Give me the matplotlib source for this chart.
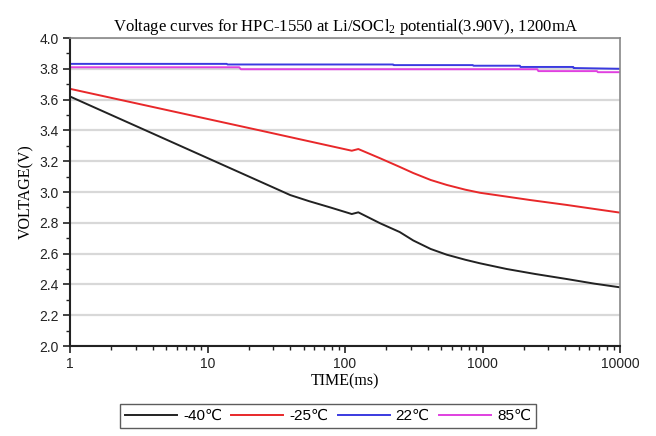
import matplotlib
matplotlib.use("Agg")
import matplotlib.pyplot as plt
from matplotlib.ticker import MultipleLocator, LogLocator, FixedLocator, NullFormatter
import numpy as np

plt.rcParams['mathtext.fontset'] = 'custom'
plt.rcParams['mathtext.rm'] = 'Liberation Serif'
plt.rcParams['mathtext.default'] = 'regular'

title = "Voltage curves for HPC-1550 at Li/SOCl$_2$ potential(3.90V), 1200mA"
xlabel = "TIME(ms)"
ylabel = "VOLTAGE(V)"
labels = ["-40\u2103", "-25\u2103", "22\u2103", "85\u2103"]
colors = ["#222222", "#e8282a", "#3a3ae0", "#e040e0"]

t_m40 = [1, 30, 40, 55, 78, 112, 125, 180, 250, 314, 420, 549, 750, 959, 1500, 2400, 4095, 6500, 10000]
v_m40 = [3.62, 3.03, 2.98, 2.94, 2.90, 2.857, 2.868, 2.797, 2.74, 2.685, 2.630, 2.593, 2.56, 2.537, 2.50, 2.468, 2.435, 2.405, 2.381]

t_m25 = [1, 24, 112, 125, 180, 250, 314, 420, 549, 750, 959, 1500, 2215, 4095, 6500, 10000]
v_m25 = [3.67, 3.40, 3.268, 3.279, 3.219, 3.163, 3.123, 3.078, 3.046, 3.015, 2.995, 2.97, 2.948, 2.916, 2.89, 2.866]

t_22 = [1, 13.8, 14, 224, 226, 850, 860, 1870, 1890, 4570, 4600, 10000]
v_22 = [3.832, 3.832, 3.828, 3.828, 3.824, 3.824, 3.82, 3.82, 3.812, 3.812, 3.805, 3.80]

t_85 = [1, 17, 17.5, 2500, 2550, 6800, 6900, 10000]
v_85 = [3.81, 3.81, 3.797, 3.797, 3.785, 3.785, 3.778, 3.778]

series = [(t_m40, v_m40), (t_m25, v_m25), (t_22, v_22), (t_85, v_85)]

fig = plt.figure(figsize=(6.56, 4.36), dpi=100)
ax = fig.add_axes([70/656, 1-346/436, 550/656, 308/436])

for (t, v), c, lab in zip(series, colors, labels):
    ax.plot(t, v, color=c, lw=1.4, label=lab)

ax.set_xscale('log')
ax.set_xlim(1, 10000)
ax.set_ylim(2.0, 4.0)
ax.yaxis.set_major_locator(MultipleLocator(0.2))
ax.yaxis.set_minor_locator(MultipleLocator(0.1))
ax.xaxis.set_major_locator(FixedLocator([1, 10, 100, 1000, 10000]))
ax.xaxis.set_minor_locator(LogLocator(base=10, subs=np.arange(2, 10)))
ax.xaxis.set_minor_formatter(NullFormatter())
ax.set_xticklabels(["1", "10", "100", "1000", "10000"])
ax.set_yticks(np.round(np.arange(2.0, 4.01, 0.2), 1))
ax.set_yticklabels([f"{v:.1f}" for v in np.arange(2.0, 4.01, 0.2)])

for tl in ax.get_xticklabels() + ax.get_yticklabels():
    tl.set_family(['Liberation Sans', 'DejaVu Sans'])
    tl.set_fontsize(10)
    tl.set_color('#222222')

ax.tick_params(axis='both', which='major', direction='out', length=5, width=1.2, color='#222222', pad=3)
ax.tick_params(axis='both', which='minor', direction='out', length=3, width=1.0, color='#222222')
ax.tick_params(top=False, right=False)

ax.grid(axis='y', which='major', color='#d8d8d8', lw=1.6)
ax.set_axisbelow(True)
for s in ['left', 'bottom']:
    ax.spines[s].set_color('#222222')
    ax.spines[s].set_linewidth(1.5)
for s in ['top', 'right']:
    ax.spines[s].set_color('#888888')
    ax.spines[s].set_linewidth(1.2)

ax.set_title(title, family='Liberation Serif', fontsize=12, pad=5)
ax.set_xlabel(xlabel, family='Liberation Serif', fontsize=11.5, labelpad=2)
ax.set_ylabel(ylabel, family='Liberation Serif', fontsize=11.5, labelpad=4)

leg = fig.legend(loc='center', bbox_to_anchor=(328/656, 1-416/436), ncol=4,
                 frameon=True, fancybox=False, handlelength=3.4, handletextpad=0.4,
                 columnspacing=0.6, borderpad=0.35,
                 prop={'family': ['Liberation Sans', 'DejaVu Sans'], 'size': 11})
leg.get_frame().set_edgecolor('#333333')
leg.get_frame().set_linewidth(1.0)

fig.savefig("out.png", dpi=100)
